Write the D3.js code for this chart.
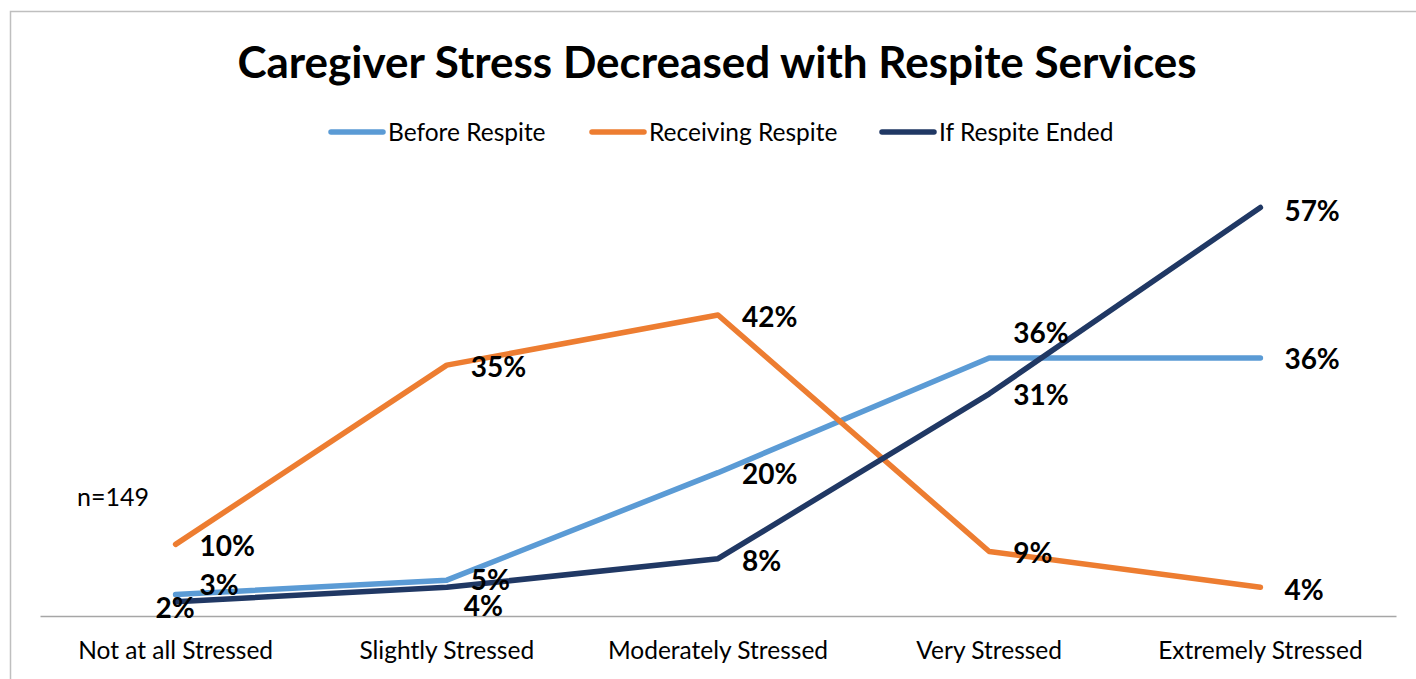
<!DOCTYPE html>
<head>
  <meta charset="utf-8">
  <script src="https://d3js.org/d3.v7.min.js"></script>
  <style>
    body { margin: 0; background: #fff; }
    text { font-family: Lato, "Open Sans", sans-serif; }
  </style>
</head>
<body>
  <div class="chart"></div>
  <script>
    var categories = ["Not at all Stressed", "Slightly Stressed", "Moderately Stressed", "Very Stressed", "Extremely Stressed"];
    var seriesNames = ["Before Respite", "Receiving Respite", "If Respite Ended"];
    var beforeRespite = [0.03, 0.05, 0.20, 0.36, 0.36];
    var receivingRespite = [0.10, 0.35, 0.42, 0.09, 0.04];
    var ifRespiteEnded = [0.02, 0.04, 0.08, 0.31, 0.57];
    var colors = ["#5B9BD5", "#ED7D31", "#203864"];

    (function() {
      var width = 1416, height = 679;

      var svg = d3.select(".chart")
        .append("svg")
        .attr("width", width)
        .attr("height", height);

      // chart frame
      svg.append("rect")
        .attr("x", 10.5).attr("y", 11.5)
        .attr("width", width).attr("height", height)
        .attr("fill", "none")
        .attr("stroke", "#BFBFBF")
        .attr("stroke-width", 1.5);

      svg.append("text")
        .attr("x", 717).attr("y", 78)
        .attr("text-anchor", "middle")
        .attr("font-size", 44)
        .attr("font-weight", "bold")
        .text("Caregiver Stress Decreased with Respite Services");

      var x = d3.scaleBand().domain(categories).range([40, 1396]);
      var y = d3.scaleLinear().domain([0, 0.6]).range([616, 186]);

      var series = [beforeRespite, receivingRespite, ifRespiteEnded].map(function(v, i) {
        return { name: seriesNames[i], color: colors[i], values: v };
      });

      // x axis
      var xAxis = svg.append("g")
        .attr("transform", "translate(0," + y(0) + ")")
        .call(d3.axisBottom(x).tickSize(0).tickPadding(26));
      xAxis.select(".domain").attr("stroke", "#A6A6A6").attr("stroke-width", 1.5);
      xAxis.selectAll("text")
        .attr("font-size", 24.5)
        .attr("fill", "#000")
        .style("font-family", "Lato, sans-serif");

      var line = d3.line()
        .x(function(d, i) { return x(categories[i]) + x.bandwidth() / 2 })
        .y(function(d) { return y(d) });

      svg.selectAll(".series")
        .data(series)
        .enter().append("path")
        .attr("class", "series")
        .attr("d", function(d) { return line(d.values) })
        .attr("fill", "none")
        .attr("stroke", function(d) { return d.color })
        .attr("stroke-width", 5.5)
        .attr("stroke-linejoin", "round")
        .attr("stroke-linecap", "round");

      // label nudges [dx, dy] per series / point
      var nudges = [
        [[24, -10], [24, 0], [24, 1], [24, -25], [24, 1]],
        [[24, 2], [24, 2], [24, 2], [24, 1], [24, 3]],
        [[-20, 6], [17, 19], [24, 2], [24, 1], [24, 3]]
      ];

      series.forEach(function(s, si) {
        svg.selectAll(".lbl" + si)
          .data(s.values)
          .enter().append("text")
          .attr("class", "lbl" + si)
          .attr("x", function(d, i) { return x(categories[i]) + x.bandwidth() / 2 + nudges[si][i][0] })
          .attr("y", function(d, i) { return y(d) + nudges[si][i][1] })
          .attr("dy", "0.36em")
          .attr("font-size", 28)
          .attr("font-weight", "bold")
          .text(function(d) { return Math.round(d * 100) + "%" });
      });

      // legend
      var legendX = [329, 590, 880];
      var legend = svg.selectAll(".legend")
        .data(series)
        .enter().append("g")
        .attr("class", "legend")
        .attr("transform", function(d, i) { return "translate(" + legendX[i] + ",132)" });
      legend.append("line")
        .attr("x1", 2).attr("x2", 54)
        .attr("stroke", function(d) { return d.color })
        .attr("stroke-width", 5.5)
        .attr("stroke-linecap", "round");
      legend.append("text")
        .attr("x", 59)
        .attr("dy", "0.36em")
        .attr("font-size", 24.5)
        .text(function(d) { return d.name });

      svg.append("text")
        .attr("x", 77).attr("y", 497)
        .attr("dy", "0.36em")
        .attr("font-size", 25)
        .text("n=149");
    })();
  </script>
</body>
